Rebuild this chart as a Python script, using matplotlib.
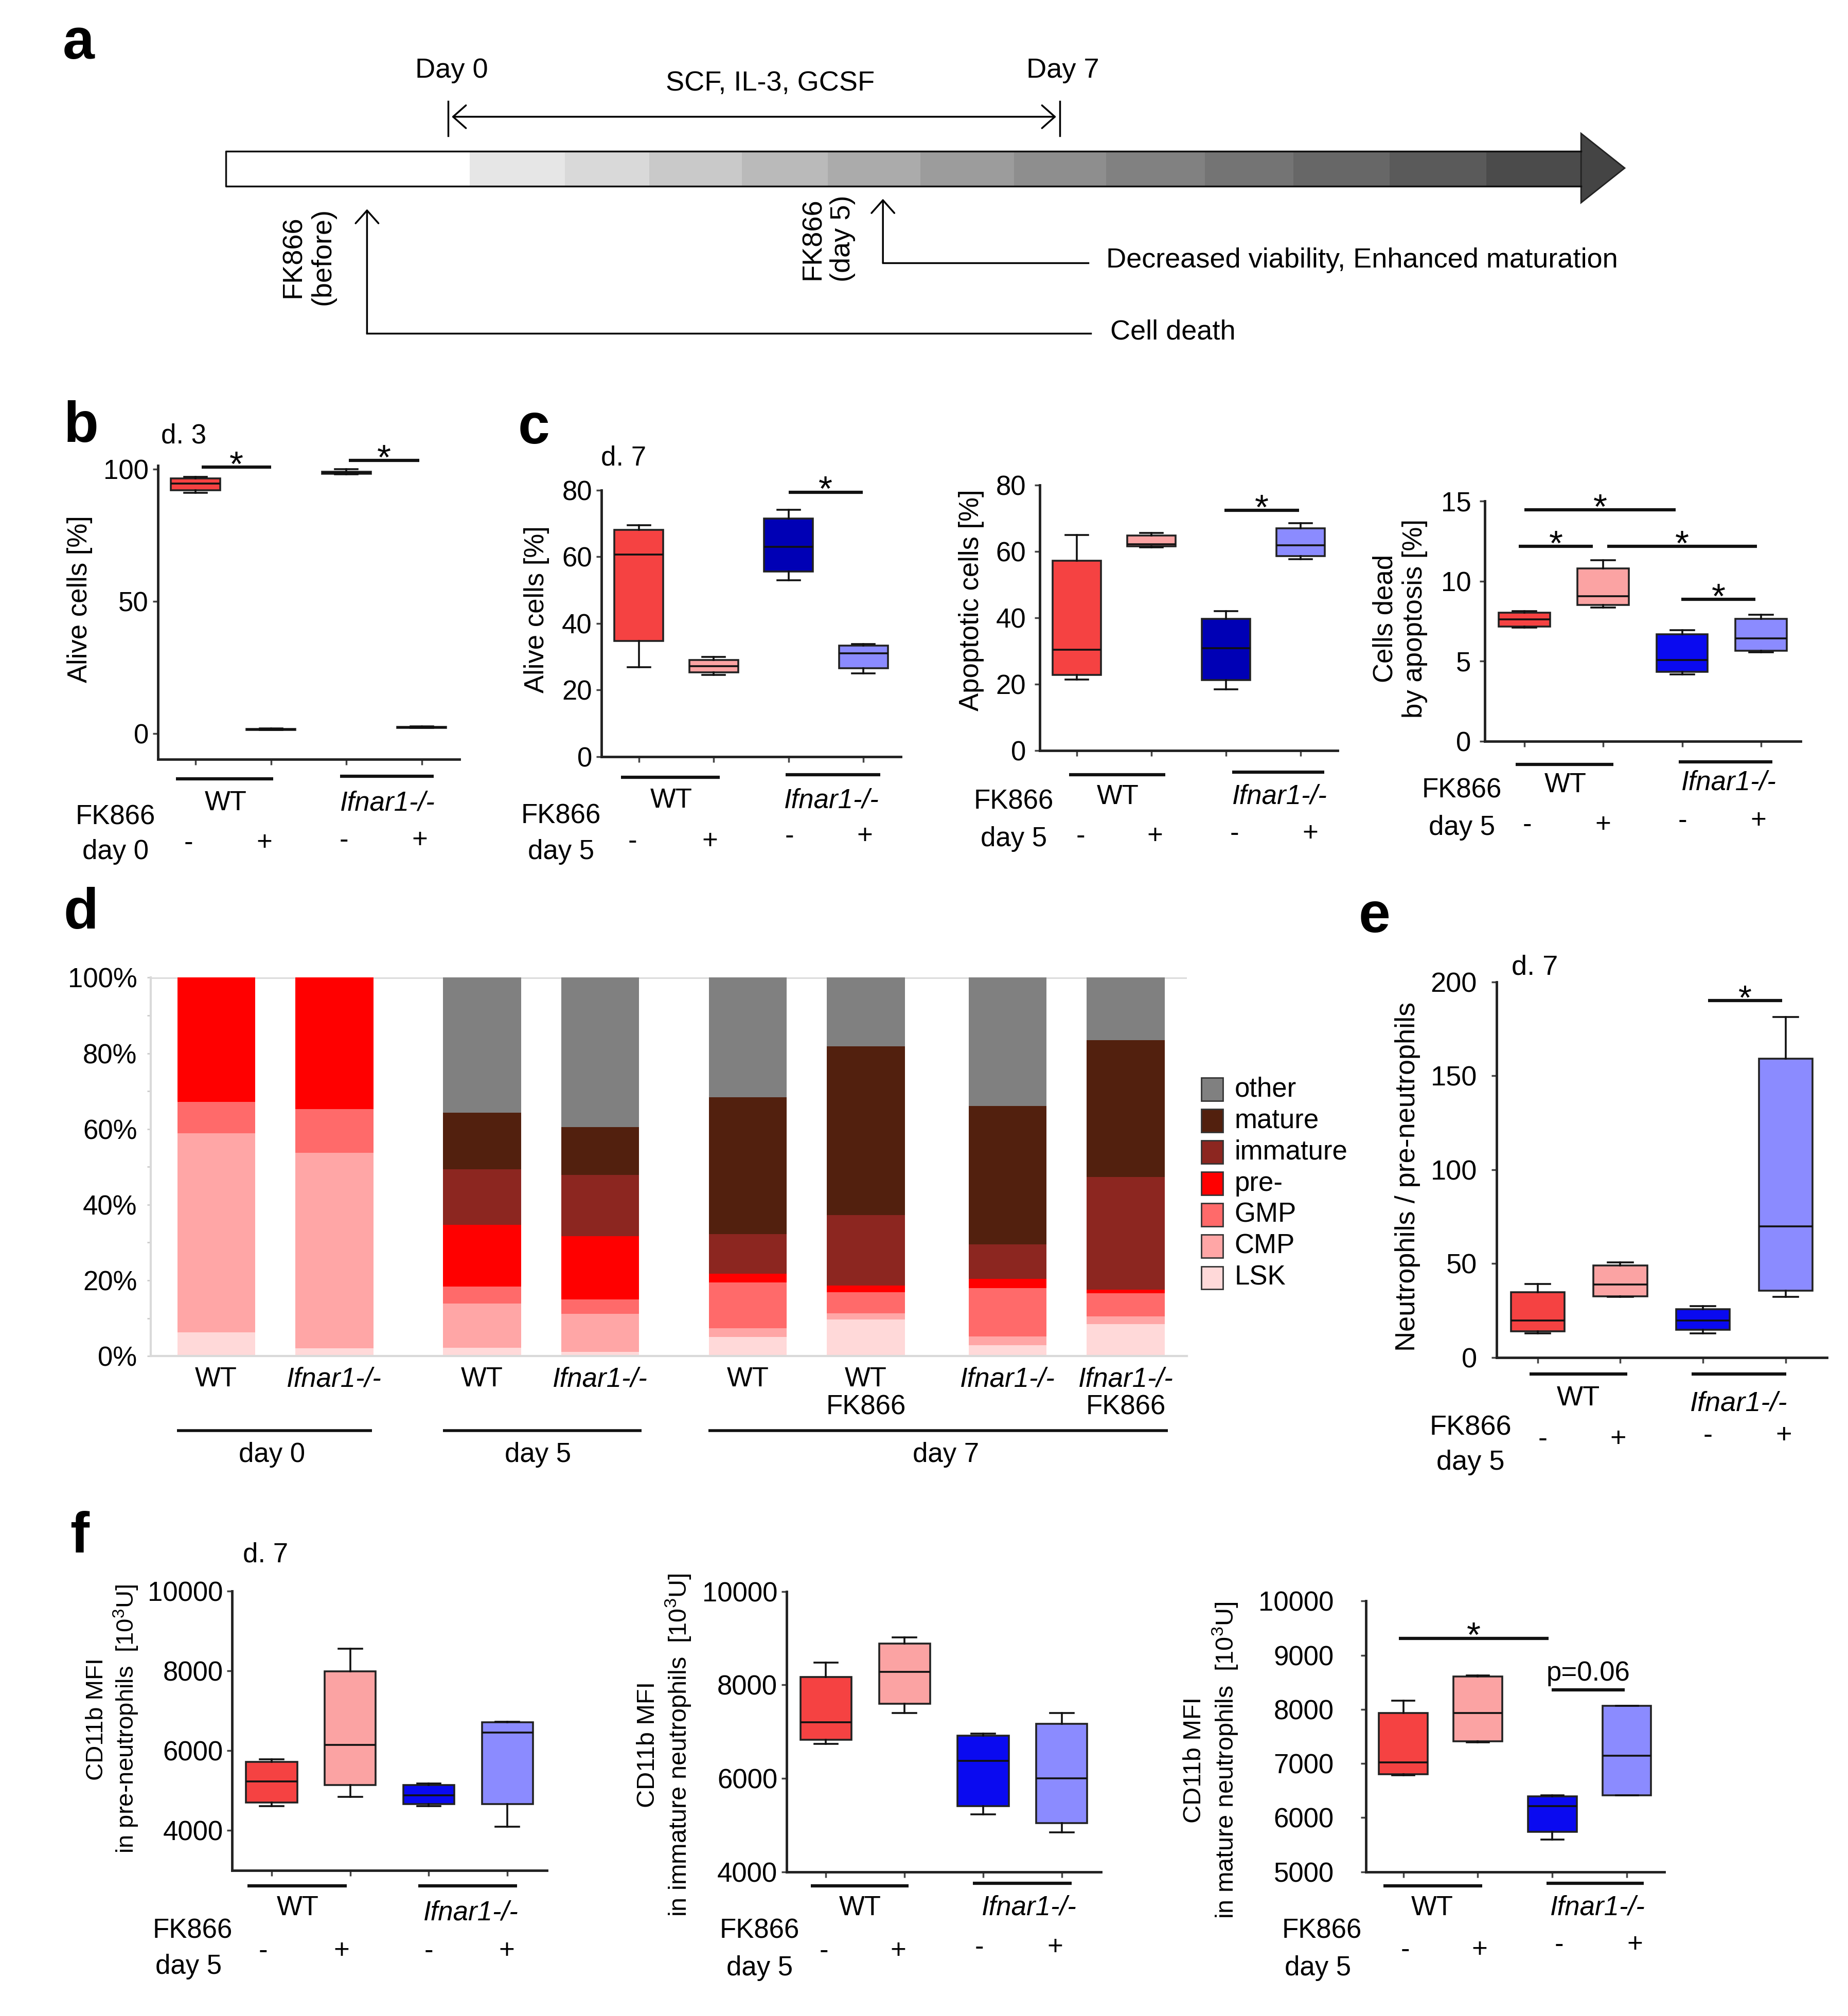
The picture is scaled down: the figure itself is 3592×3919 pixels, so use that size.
"""
multi-panel figure: FK866 timeline, viability boxplots, differentiation stacks, CD11b MFI
"""

import matplotlib

matplotlib.use("Agg")
import matplotlib.pyplot as plt
import matplotlib.transforms as mtrans
import numpy as np
from matplotlib import font_manager
from matplotlib.patches import Polygon, Rectangle

# ---------------------------------------------------------------- data
# five-number summaries per box: [whislo, q1, median, q3, whishi]
# box order: WT -, WT +, Ifnar1-/- -, Ifnar1-/- +
ALIVE_D3 = [[91, 92, 94.5, 96.5, 97], [1.2, 1.3, 1.5, 1.7, 1.8],
            [98, 98.3, 98.7, 99.0, 100], [2.0, 2.1, 2.3, 2.5, 2.6]]
ALIVE_D7 = [[26.8, 34.7, 60.7, 68, 69.4], [24.5, 25.3, 27.2, 29, 30],
            [53, 55.5, 62.9, 71.4, 74.1], [25, 26.6, 31, 33.4, 33.8]]
APOPTOTIC = [[21.4, 22.8, 30.3, 57.2, 64.9], [61.2, 61.5, 62.2, 64.7, 65.6],
             [18.5, 21.2, 30.8, 39.7, 42], [57.6, 58.5, 61.9, 67, 68.5]]
DEAD_APOPT = [[7.1, 7.16, 7.6, 8.03, 8.14], [8.34, 8.5, 9.06, 10.8, 11.3],
              [4.19, 4.34, 5.08, 6.68, 6.95], [5.56, 5.66, 6.43, 7.66, 7.89]]
NEUT_RATIO = [[12.9, 14.0, 19.7, 34.8, 39.1], [32.1, 32.6, 38.7, 49.0, 50.7],
              [12.9, 14.6, 19.7, 25.6, 27.3], [32.1, 35.4, 69.7, 159.1, 181.4]]
CD11B_PRE = [[4612, 4696, 5232, 5718, 5785], [4846, 5131, 6145, 7989, 8550],
             [4612, 4662, 4880, 5140, 5173], [4092, 4662, 6455, 6707, 6724]]
CD11B_IMM = [[6738, 6824, 7198, 8168, 8477], [7399, 7593, 8283, 8886, 9016],
             [5229, 5401, 6371, 6910, 6953], [4848, 5042, 5998, 7162, 7399]]
CD11B_MAT = [[6784, 6802, 7019, 7932, 8161], [7389, 7407, 7932, 8605, 8624],
             [5599, 5741, 6216, 6389, 6414], [6414, 6414, 7142, 8068, 8068]]

# panel d, percent of cells per population (bottom to top)
D_BARS = ["WT", "Ifnar1-/-", "WT", "Ifnar1-/-", "WT", "WT\nFK866",
          "Ifnar1-/-", "Ifnar1-/-\nFK866"]
LSK = [6.3, 2.1, 2.2, 1.1, 5.1, 9.7, 2.9, 8.5]
CMP = [52.6, 51.6, 11.7, 10.0, 2.3, 1.6, 2.3, 2.0]
GMP = [8.3, 11.6, 4.4, 3.9, 12.1, 5.6, 12.7, 6.1]
PRE = [32.8, 34.7, 16.4, 16.7, 2.3, 1.7, 2.5, 1.0]
IMMATURE = [0, 0, 14.6, 16.2, 10.4, 18.7, 9.1, 29.7]
MATURE = [0, 0, 15.0, 12.6, 36.2, 44.6, 36.6, 36.2]
OTHER = [0, 0, 35.7, 39.5, 31.6, 18.1, 33.9, 16.5]

# ---------------------------------------------------------------- style
W, H = 1440.0, 1571.4  # layout units (reference preview pixels)

names = {f.name for f in font_manager.fontManager.ttflist}
if "Liberation Sans Narrow" in names:
    NARROW, NS = ["Liberation Sans Narrow", "Liberation Sans"], 46
else:
    NARROW, NS = ["Liberation Sans", "DejaVu Sans"], 38
REG = ["Liberation Sans", "DejaVu Sans"]
plt.rcParams["font.family"] = REG
plt.rcParams["mathtext.fontset"] = "custom"
plt.rcParams["mathtext.rm"] = "Liberation Sans"

RED, PINK, NAVY, BLUE, LILAC = "#f54242", "#fba3a3", "#0000b5", "#0a0af0", "#8b8bff"
D_COLORS = {"LSK": "#ffd9d9", "CMP": "#ffa6a6", "GMP": "#ff6a6a", "pre-": "#ff0000",
            "immature": "#8c2620", "mature": "#52200e", "other": "#808080"}

fig = plt.figure(figsize=(35.92, 39.19), dpi=100)


def add_ax(x0, y0, x1, y1):
    return fig.add_axes([x0 / W, 1 - y1 / H, (x1 - x0) / W, (y1 - y0) / H])


def boxpanel(rect, stats, colors, ylim, yticks, pad=6, fam=None, size=None):
    ax = add_ax(*rect)
    ax.patch.set_visible(False)
    bx = [dict(whislo=s[0], q1=s[1], med=s[2], q3=s[3], whishi=s[4], fliers=[])
          for s in stats]
    lw = 2.6
    art = ax.bxp(bx, positions=[1, 2, 3, 4], widths=0.65, patch_artist=True,
                 showfliers=False, capwidths=0.3,
                 boxprops=dict(edgecolor="#222222", linewidth=lw),
                 medianprops=dict(color="#111111", linewidth=lw),
                 whiskerprops=dict(color="#111111", linewidth=lw),
                 capprops=dict(color="#111111", linewidth=lw))
    for patch, c in zip(art["boxes"], colors):
        patch.set_facecolor(c)
    ax.set_xlim(0.5, 4.5)
    ax.set_ylim(*ylim)
    ax.set_xticks([1, 2, 3, 4], labels=[])
    ax.set_yticks(yticks, labels=[str(v) for v in yticks],
                  fontfamily=fam or NARROW, fontsize=size or NS)
    for s in ["top", "right"]:
        ax.spines[s].set_visible(False)
    for s in ["left", "bottom"]:
        ax.spines[s].set_linewidth(3.5)
        ax.spines[s].set_color("#222222")
    ax.tick_params(axis="x", length=8, width=2.5, color="#444444")
    ax.tick_params(axis="y", length=7, width=2.5, color="#444444", pad=pad)
    return ax


def sig(ax, x0, x1, y, label="*", dy=-12, size=50, fam=None):
    ax.plot([x0, x1], [y, y], color="#111111", lw=4.5, clip_on=False,
            solid_capstyle="butt")
    ax.annotate(label, xy=((x0 + x1) / 2, y), xytext=(0, dy),
                textcoords="offset points", ha="center", va="baseline",
                fontsize=size, fontfamily=fam or REG, annotation_clip=False)


# overlay in layout units for texts and diagram parts
ov = fig.add_axes([0, 0, 1, 1], zorder=10)
ov.set_xlim(0, W)
ov.set_ylim(H, 0)
ov.axis("off")
ov.patch.set_visible(False)


def t(x, y, s, size=None, fam=None, **kw):
    kw.setdefault("ha", "center")
    kw.setdefault("va", "center")
    ov.text(x, y, s, fontsize=size or NS, fontfamily=fam or NARROW, **kw)


def groups(lines, wt, ko, fk, day, signs, day_label="day 5", fam=None, size=None):
    for x0, x1, y in lines:
        ov.plot([x0, x1], [y, y], color="#111111", lw=4.5, solid_capstyle="butt")
    t(*wt, "WT", size=size, fam=fam)
    t(*ko, "Ifnar1-/-", size=size, fam=fam, style="italic")
    t(*fk, "FK866", size=size, fam=fam)
    t(*day, day_label, size=size, fam=fam)
    for (x, y), s in zip(signs, ["-", "+", "-", "+"]):
        t(x, y, s, size=size, fam=fam)


# panel letters
for letter, (x, y) in {"a": (61, 34), "b": (63, 333), "c": (416, 334),
                       "d": (63, 712), "e": (1071, 715), "f": (62, 1198)}.items():
    t(x, y, letter, size=80, fam=REG, weight="bold")

# ---------------------------------------------------------------- a
A_SHADES = ["#ffffff", "#e6e6e6", "#d9d9d9", "#c9c9c9", "#bababa", "#ababab",
            "#9c9c9c", "#8e8e8e", "#818181", "#747474", "#676767", "#5a5a5a",
            "#4b4b4b"]
A_EDGES = [176, 366, 440, 506, 578, 645, 717, 790, 862, 939, 1008, 1083,
           1158, 1232]
for x0, x1, c in zip(A_EDGES[:-1], A_EDGES[1:], A_SHADES):
    ov.add_patch(Rectangle((x0, 118), x1 - x0, 27, fc=c, ec="none"))
ov.plot([1232, 176, 176, 1232], [118, 118, 145, 145], color="#111111", lw=2.5)
ov.add_patch(Polygon([(1232, 104), (1266, 131), (1232, 158)], closed=True,
                     fc="#444444", ec="#222222", lw=2))

ov.plot([349, 349], [79, 106], color="k", lw=2.5)
ov.plot([826, 826], [79, 106], color="k", lw=2.5)
arr = dict(arrowstyle="<->,head_length=0.45,head_width=0.4", lw=2.5, color="k",
           mutation_scale=40, shrinkA=0, shrinkB=0)
ov.annotate("", xy=(823, 91), xytext=(352, 91), arrowprops=arr)
t(352, 55, "Day 0", size=39, fam=REG)
t(828, 55, "Day 7", size=39, fam=REG)
t(600, 65, "SCF, IL-3, GCSF", size=39, fam=REG)

up = dict(arrowstyle="->,head_length=0.45,head_width=0.4", lw=2.5, color="k",
          mutation_scale=40, shrinkA=0, shrinkB=0)
ov.annotate("", xy=(286, 163), xytext=(286, 260), arrowprops=up)
ov.plot([286, 850], [260, 260], color="k", lw=2.5)
ov.annotate("", xy=(688, 155), xytext=(688, 205), arrowprops=up)
ov.plot([688, 848], [205, 205], color="k", lw=2.5)
t(240, 200, "FK866\n(before)", size=39, fam=REG, rotation=90,
  multialignment="center")
t(645, 186, "FK866\n(day 5)", size=39, fam=REG, rotation=90,
  multialignment="center")
t(865, 259, "Cell death", size=39, fam=REG, ha="left")
t(862, 203, "Decreased viability, Enhanced maturation", size=39, fam=REG,
  ha="left")

# ---------------------------------------------------------------- b
ax = boxpanel((123, 363, 358, 592), ALIVE_D3, [RED, PINK, NAVY, LILAC],
              (-9.9, 101.3), [0, 50, 100])
sig(ax, 1.08, 2.0, 100.8)
sig(ax, 3.03, 3.97, 103.3)
t(143, 340, "d. 3")
t(62, 467, "Alive cells [%]", size=38, fam=REG, rotation=90)
groups([(137, 213, 607), (265, 338, 605)], (176, 626), (302, 626),
       (90, 637), (90, 664), [(147, 657), (206, 657), (268, 655), (327, 655)],
       day_label="day 0")

# ---------------------------------------------------------------- c
ax = boxpanel((468.6, 382, 702, 589.8), ALIVE_D7, [RED, PINK, NAVY, LILAC],
              (0, 80), [0, 20, 40, 60, 80])
sig(ax, 3.0, 3.99, 79.4)
t(486, 357, "d. 7")
t(418, 475, "Alive cells [%]", size=38, fam=REG, rotation=90)
groups([(484, 561, 606), (612, 686, 604)], (523, 624), (648, 624),
       (437, 636), (437, 664), [(493, 656), (553, 656), (615, 652), (674, 652)])

ax = boxpanel((810, 378, 1042.5, 585), APOPTOTIC, [RED, PINK, NAVY, LILAC],
              (0, 80), [0, 20, 40, 60, 80], pad=12)
sig(ax, 2.98, 3.98, 72.4)
t(757, 468, "Apoptotic cells [%]", size=38, fam=REG, rotation=90)
groups([(833, 908, 604), (960, 1032, 602)], (871, 621), (997, 621),
       (790, 625), (790, 654), [(842, 652), (900, 652), (962, 650), (1021, 650)])

ax = boxpanel((1157, 390.6, 1403, 577.8), DEAD_APOPT, [RED, PINK, BLUE, LILAC],
              (0, 15), [0, 5, 10, 15], pad=12)
sig(ax, 1.0, 2.92, 14.45)
sig(ax, 0.93, 1.87, 12.17)
sig(ax, 2.05, 3.95, 12.17)
sig(ax, 2.99, 3.93, 8.87)
t(1091, 482, "Cells dead\nby apoptosis [%]", size=38, fam=REG, rotation=90,
  multialignment="center")
groups([(1181, 1257, 596), (1308, 1381, 594)], (1220, 612), (1347, 610),
       (1139, 616), (1139, 645), [(1190, 643), (1249, 643), (1311, 640), (1370, 640)])

# ---------------------------------------------------------------- d
D_POS = np.array([0, 1, 2.25, 3.25, 4.5, 5.5, 6.7, 7.7])
ax = add_ax(117.4, 762, 925, 1057)
ax.patch.set_visible(False)
bottom = np.zeros(len(D_POS))
for key, vals in zip(["LSK", "CMP", "GMP", "pre-", "immature", "mature", "other"],
                     [LSK, CMP, GMP, PRE, IMMATURE, MATURE, OTHER]):
    ax.bar(D_POS, vals, width=0.66, bottom=bottom, color=D_COLORS[key],
           edgecolor="none")
    bottom += np.array(vals)
ax.set_xlim(-0.555, 8.22)
ax.set_ylim(0, 100)
ax.axhline(100, color="#d9d9d9", lw=4, zorder=0)
ax.set_yticks(range(0, 101, 20), labels=[f"{v}%" for v in range(0, 101, 20)],
              fontfamily=NARROW, fontsize=NS)
ax.set_yticks(range(0, 101, 10), minor=True)
ax.set_xticks([])
for s in ["top", "right"]:
    ax.spines[s].set_visible(False)
for s in ["left", "bottom"]:
    ax.spines[s].set_color("#d9d9d9")
    ax.spines[s].set_linewidth(3)
ax.tick_params(axis="y", which="both", length=5, width=2, color="#cccccc", pad=14)

bt = mtrans.blended_transform_factory(ax.transData, ov.transData)
for x, lab in zip(D_POS, D_BARS):
    parts = lab.split("\n")
    ax.text(x, 1075, parts[0], transform=bt, ha="center", va="center",
            fontsize=NS, fontfamily=NARROW,
            style="italic" if parts[0].startswith("Ifnar") else "normal")
    if len(parts) > 1:
        ax.text(x, 1097, parts[1], transform=bt, ha="center", va="center",
                fontsize=NS, fontfamily=NARROW)
for x0, x1, lab, lx in [(138, 290, "day 0", 212), (345, 500, "day 5", 419),
                        (552, 910, "day 7", 737)]:
    ov.plot([x0, x1], [1115, 1115], color="#111111", lw=4, solid_capstyle="butt")
    t(lx, 1134, lab)

for i, key in enumerate(["other", "mature", "immature", "pre-", "GMP", "CMP", "LSK"]):
    y = 849 + i * 24.5
    ov.add_patch(Rectangle((936, y - 9), 17, 18, fc=D_COLORS[key], ec="#333333", lw=2))
    t(962, y, key, ha="left")

# ---------------------------------------------------------------- e
ax = boxpanel((1166, 765.4, 1423.6, 1058), NEUT_RATIO, [RED, PINK, BLUE, LILAC],
              (0, 200), [0, 50, 100, 150, 200], pad=20, fam=REG, size=39)
sig(ax, 3.06, 3.96, 190.2, size=48)
t(1196, 754, "d. 7", size=39, fam=REG)
t(1097, 917, "Neutrophils / pre-neutrophils", size=39, fam=REG, rotation=90)
groups([(1192, 1268, 1071), (1318, 1392, 1071)], (1230, 1090), (1355, 1094),
       (1146, 1113), (1146, 1140), [(1202, 1122), (1261, 1122), (1331, 1119), (1390, 1119)],
       fam=REG, size=39)

# ---------------------------------------------------------------- f
ax = boxpanel((181, 1240, 426, 1457.9), CD11B_PRE, [RED, PINK, BLUE, LILAC],
              (3000, 10000), [4000, 6000, 8000, 10000])
t(207, 1212, "d. 7")
t(88, 1340, "CD11b MFI\nin pre-neutrophils  [10$^3$U]", size=34, fam=REG,
  rotation=90, multialignment="center")
groups([(193, 270, 1470), (326, 403, 1470)], (232, 1487), (367, 1491),
       (150, 1505), (147, 1533), [(205, 1521), (266, 1521), (334, 1521), (395, 1521)])

ax = boxpanel((613, 1240.4, 858, 1459), CD11B_IMM, [RED, PINK, BLUE, LILAC],
              (4000, 10000), [4000, 6000, 8000, 10000])
t(518, 1360, "CD11b MFI\nin immature neutrophils  [10$^3$U]", size=35, fam=REG,
  rotation=90, multialignment="center")
groups([(632, 708, 1470), (758, 835, 1468)], (670, 1487), (802, 1487),
       (592, 1505), (592, 1534), [(642, 1521), (700, 1521), (763, 1518), (822, 1518)])

ax = boxpanel((1064.4, 1248, 1296.8, 1459), CD11B_MAT, [RED, PINK, BLUE, LILAC],
              (5000, 10000), [5000, 6000, 7000, 8000, 9000, 10000], pad=38)
sig(ax, 0.94, 2.95, 9315)
sig(ax, 2.99, 3.97, 8358, label="p=0.06", dy=13, size=NS, fam=NARROW)
t(944, 1372, "CD11b MFI\nin mature neutrophils  [10$^3$U]", size=35, fam=REG,
  rotation=90, multialignment="center")
groups([(1078, 1155, 1470), (1205, 1281, 1468)], (1116, 1487), (1245, 1487),
       (1030, 1505), (1027, 1534), [(1095, 1520), (1153, 1520), (1215, 1516), (1274, 1516)])

fig.savefig("out.png", dpi=100)
